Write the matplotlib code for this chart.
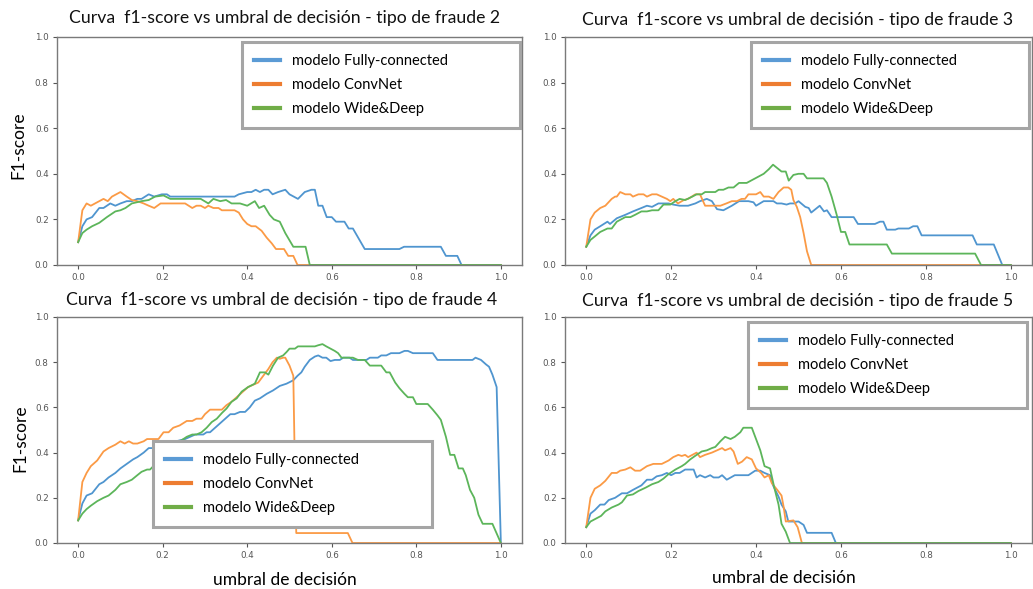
import matplotlib.pyplot as plt
from matplotlib.lines import Line2D

plt.rcParams['font.family'] = ['Lato', 'DejaVu Sans']

modelos = ['modelo Fully-connected', 'modelo ConvNet', 'modelo Wide&Deep']
tipos_fraude = [2, 3, 4, 5]

# (umbral, f1) para cada modelo y tipo de fraude
f2_fc = [(0.0, 0.10), (0.01, 0.17), (0.02, 0.20), (0.033, 0.21), (0.05, 0.25), (0.06, 0.25), (0.076, 0.27),
         (0.088, 0.26), (0.10, 0.27), (0.115, 0.28), (0.127, 0.28), (0.14, 0.29), (0.15, 0.29), (0.167, 0.31),
         (0.18, 0.30), (0.198, 0.31), (0.21, 0.31), (0.218, 0.30), (0.37, 0.30), (0.38, 0.31), (0.40, 0.32),
         (0.41, 0.32), (0.42, 0.33), (0.43, 0.32), (0.44, 0.33), (0.45, 0.33), (0.46, 0.31), (0.473, 0.32),
         (0.49, 0.33), (0.50, 0.31), (0.52, 0.29), (0.536, 0.32), (0.552, 0.33), (0.56, 0.33), (0.568, 0.26),
         (0.578, 0.26), (0.588, 0.21), (0.60, 0.21), (0.61, 0.19), (0.63, 0.19), (0.64, 0.16), (0.65, 0.16),
         (0.678, 0.07), (0.76, 0.07), (0.771, 0.08), (0.858, 0.08), (0.87, 0.04), (0.897, 0.04), (0.907, 0.0),
         (1.0, 0.0)]
f2_conv = [(0.0, 0.10), (0.01, 0.24), (0.02, 0.27), (0.03, 0.26), (0.045, 0.275), (0.06, 0.29), (0.07, 0.28),
           (0.08, 0.30), (0.10, 0.32), (0.115, 0.30), (0.127, 0.285), (0.14, 0.28), (0.155, 0.27), (0.167, 0.26),
           (0.18, 0.25), (0.195, 0.27), (0.253, 0.27), (0.27, 0.25), (0.28, 0.26), (0.29, 0.26), (0.30, 0.25),
           (0.308, 0.26), (0.32, 0.25), (0.332, 0.25), (0.34, 0.24), (0.37, 0.24), (0.38, 0.23), (0.39, 0.20),
           (0.40, 0.18), (0.41, 0.17), (0.42, 0.17), (0.434, 0.15), (0.446, 0.12), (0.458, 0.095), (0.468, 0.07),
           (0.487, 0.07), (0.497, 0.04), (0.509, 0.04), (0.519, 0.0), (1.0, 0.0)]
f2_wd = [(0.0, 0.10), (0.01, 0.14), (0.02, 0.155), (0.033, 0.17), (0.05, 0.185), (0.068, 0.21), (0.08, 0.225),
         (0.088, 0.235), (0.10, 0.24), (0.112, 0.25), (0.127, 0.27), (0.15, 0.28), (0.167, 0.285), (0.182, 0.30),
         (0.202, 0.305), (0.218, 0.29), (0.29, 0.29), (0.308, 0.27), (0.32, 0.29), (0.336, 0.28), (0.35, 0.285),
         (0.363, 0.27), (0.383, 0.27), (0.40, 0.26), (0.418, 0.28), (0.428, 0.25), (0.44, 0.26), (0.453, 0.22),
         (0.463, 0.20), (0.477, 0.19), (0.49, 0.14), (0.509, 0.08), (0.538, 0.08), (0.548, 0.0), (1.0, 0.0)]

f3_fc = [(0.0, 0.08), (0.01, 0.13), (0.02, 0.155), (0.033, 0.17), (0.05, 0.19), (0.056, 0.18), (0.072, 0.205),
         (0.092, 0.22), (0.11, 0.235), (0.13, 0.25), (0.143, 0.26), (0.155, 0.255), (0.17, 0.27), (0.194, 0.27),
         (0.205, 0.265), (0.22, 0.26), (0.24, 0.26), (0.257, 0.27), (0.268, 0.28), (0.284, 0.29), (0.296, 0.28),
         (0.308, 0.245), (0.323, 0.24), (0.343, 0.26), (0.36, 0.28), (0.382, 0.28), (0.394, 0.275), (0.40, 0.26),
         (0.418, 0.28), (0.441, 0.28), (0.449, 0.27), (0.46, 0.27), (0.472, 0.265), (0.48, 0.27), (0.492, 0.27),
         (0.50, 0.28), (0.516, 0.255), (0.524, 0.25), (0.53, 0.23), (0.54, 0.245), (0.55, 0.26), (0.56, 0.235),
         (0.567, 0.24), (0.578, 0.21), (0.63, 0.21), (0.64, 0.18), (0.68, 0.18), (0.692, 0.19), (0.70, 0.19),
         (0.708, 0.155), (0.728, 0.155), (0.735, 0.16), (0.76, 0.16), (0.77, 0.17), (0.78, 0.17), (0.79, 0.13),
         (0.91, 0.13), (0.92, 0.09), (0.96, 0.09), (0.98, 0.0), (1.0, 0.0)]
f3_conv = [(0.0, 0.08), (0.01, 0.20), (0.02, 0.23), (0.033, 0.25), (0.045, 0.26), (0.06, 0.29), (0.068, 0.30),
           (0.072, 0.30), (0.08, 0.32), (0.092, 0.31), (0.104, 0.31), (0.11, 0.30), (0.123, 0.31), (0.135, 0.31),
           (0.143, 0.30), (0.155, 0.31), (0.166, 0.31), (0.178, 0.30), (0.19, 0.29), (0.198, 0.28), (0.205, 0.29),
           (0.216, 0.27), (0.23, 0.285), (0.24, 0.29), (0.257, 0.31), (0.268, 0.31), (0.28, 0.26), (0.316, 0.26),
           (0.33, 0.27), (0.343, 0.28), (0.355, 0.28), (0.366, 0.29), (0.374, 0.29), (0.382, 0.31), (0.40, 0.31),
           (0.41, 0.32), (0.418, 0.30), (0.43, 0.30), (0.441, 0.29), (0.453, 0.32), (0.465, 0.34), (0.476, 0.34),
           (0.483, 0.33), (0.488, 0.285), (0.496, 0.255), (0.504, 0.21), (0.512, 0.14), (0.52, 0.06), (0.53, 0.0),
           (1.0, 0.0)]
f3_wd = [(0.0, 0.08), (0.01, 0.11), (0.02, 0.125), (0.033, 0.145), (0.05, 0.16), (0.06, 0.16), (0.072, 0.19),
         (0.092, 0.21), (0.104, 0.21), (0.115, 0.22), (0.13, 0.235), (0.143, 0.235), (0.155, 0.24), (0.17, 0.24),
         (0.182, 0.265), (0.198, 0.265), (0.21, 0.28), (0.22, 0.29), (0.233, 0.285), (0.25, 0.30), (0.26, 0.31),
         (0.272, 0.31), (0.28, 0.32), (0.304, 0.32), (0.312, 0.33), (0.323, 0.33), (0.335, 0.34), (0.347, 0.34),
         (0.36, 0.36), (0.378, 0.36), (0.398, 0.38), (0.418, 0.40), (0.43, 0.42), (0.44, 0.44), (0.45, 0.425),
         (0.46, 0.41), (0.47, 0.41), (0.477, 0.37), (0.488, 0.395), (0.50, 0.40), (0.512, 0.40), (0.52, 0.38),
         (0.559, 0.38), (0.567, 0.36), (0.578, 0.30), (0.59, 0.22), (0.60, 0.145), (0.61, 0.145), (0.62, 0.09),
         (0.708, 0.09), (0.72, 0.05), (0.916, 0.05), (0.93, 0.0), (1.0, 0.0)]

f4_fc = [(0.0, 0.10), (0.01, 0.175), (0.02, 0.21), (0.033, 0.22), (0.05, 0.26), (0.06, 0.27), (0.072, 0.29),
         (0.088, 0.31), (0.10, 0.33), (0.115, 0.35), (0.13, 0.37), (0.14, 0.38), (0.155, 0.40), (0.167, 0.42),
         (0.178, 0.42), (0.21, 0.44), (0.253, 0.46), (0.265, 0.47), (0.277, 0.48), (0.296, 0.48), (0.304, 0.49),
         (0.312, 0.49), (0.324, 0.51), (0.336, 0.53), (0.348, 0.55), (0.36, 0.57), (0.37, 0.57), (0.383, 0.58),
         (0.395, 0.58), (0.406, 0.60), (0.418, 0.63), (0.43, 0.64), (0.446, 0.66), (0.461, 0.675), (0.477, 0.695),
         (0.493, 0.705), (0.509, 0.72), (0.519, 0.74), (0.528, 0.755), (0.536, 0.78), (0.548, 0.81), (0.56, 0.825),
         (0.568, 0.83), (0.578, 0.82), (0.587, 0.82), (0.597, 0.805), (0.607, 0.81), (0.619, 0.81), (0.627, 0.82),
         (0.642, 0.82), (0.65, 0.81), (0.682, 0.81), (0.69, 0.82), (0.709, 0.82), (0.717, 0.83), (0.729, 0.83),
         (0.74, 0.84), (0.76, 0.84), (0.772, 0.85), (0.78, 0.85), (0.792, 0.84), (0.839, 0.84), (0.85, 0.81),
         (0.933, 0.81), (0.94, 0.82), (0.953, 0.81), (0.965, 0.79), (0.972, 0.78), (0.98, 0.745), (0.99, 0.69),
         (1.0, 0.0)]
f4_conv = [(0.0, 0.10), (0.01, 0.27), (0.02, 0.31), (0.03, 0.34), (0.045, 0.365), (0.06, 0.405), (0.072, 0.42),
           (0.088, 0.435), (0.10, 0.45), (0.11, 0.44), (0.12, 0.45), (0.13, 0.44), (0.14, 0.44), (0.155, 0.45),
           (0.163, 0.46), (0.19, 0.46), (0.202, 0.49), (0.214, 0.49), (0.225, 0.51), (0.24, 0.52), (0.257, 0.54),
           (0.27, 0.54), (0.28, 0.55), (0.292, 0.55), (0.30, 0.57), (0.312, 0.59), (0.34, 0.59), (0.351, 0.61),
           (0.363, 0.625), (0.375, 0.645), (0.39, 0.67), (0.402, 0.69), (0.414, 0.70), (0.426, 0.71), (0.438, 0.74),
           (0.45, 0.77), (0.46, 0.80), (0.47, 0.82), (0.477, 0.815), (0.485, 0.82), (0.49, 0.82), (0.50, 0.785),
           (0.509, 0.74), (0.513, 0.30), (0.516, 0.044), (0.638, 0.044), (0.649, 0.0), (1.0, 0.0)]
f4_wd = [(0.0, 0.10), (0.01, 0.13), (0.02, 0.15), (0.03, 0.165), (0.045, 0.185), (0.06, 0.20), (0.072, 0.21),
         (0.088, 0.235), (0.10, 0.26), (0.115, 0.27), (0.127, 0.28), (0.14, 0.30), (0.15, 0.315), (0.163, 0.325),
         (0.17, 0.325), (0.178, 0.34), (0.21, 0.39), (0.245, 0.455), (0.257, 0.47), (0.27, 0.48), (0.28, 0.48),
         (0.292, 0.49), (0.304, 0.51), (0.316, 0.535), (0.328, 0.55), (0.34, 0.575), (0.351, 0.595), (0.363, 0.625),
         (0.375, 0.64), (0.387, 0.67), (0.402, 0.69), (0.418, 0.705), (0.43, 0.755), (0.442, 0.755), (0.45, 0.745),
         (0.461, 0.785), (0.473, 0.82), (0.485, 0.83), (0.493, 0.845), (0.50, 0.86), (0.513, 0.86), (0.52, 0.87),
         (0.56, 0.87), (0.568, 0.875), (0.578, 0.88), (0.587, 0.87), (0.597, 0.86), (0.607, 0.85), (0.615, 0.84),
         (0.623, 0.82), (0.65, 0.82), (0.662, 0.81), (0.678, 0.81), (0.69, 0.785), (0.717, 0.785), (0.729, 0.755),
         (0.737, 0.755), (0.75, 0.71), (0.76, 0.685), (0.772, 0.66), (0.78, 0.645), (0.792, 0.645), (0.80, 0.615),
         (0.827, 0.615), (0.839, 0.59), (0.85, 0.565), (0.858, 0.545), (0.87, 0.47), (0.88, 0.39), (0.89, 0.39),
         (0.90, 0.33), (0.91, 0.33), (0.917, 0.30), (0.927, 0.235), (0.937, 0.20), (0.947, 0.125), (0.957, 0.085),
         (0.98, 0.085), (1.0, 0.0)]

f5_fc = [(0.0, 0.07), (0.01, 0.13), (0.02, 0.145), (0.033, 0.17), (0.043, 0.17), (0.053, 0.19), (0.068, 0.20),
         (0.084, 0.22), (0.096, 0.22), (0.11, 0.235), (0.13, 0.255), (0.143, 0.28), (0.155, 0.28), (0.166, 0.295),
         (0.178, 0.30), (0.19, 0.31), (0.20, 0.30), (0.21, 0.31), (0.22, 0.31), (0.233, 0.325), (0.253, 0.325),
         (0.26, 0.29), (0.268, 0.30), (0.28, 0.29), (0.292, 0.30), (0.30, 0.29), (0.312, 0.29), (0.32, 0.30),
         (0.331, 0.28), (0.35, 0.30), (0.382, 0.30), (0.398, 0.32), (0.41, 0.32), (0.42, 0.31), (0.433, 0.30),
         (0.44, 0.255), (0.453, 0.205), (0.46, 0.17), (0.47, 0.14), (0.476, 0.095), (0.50, 0.095), (0.512, 0.08),
         (0.52, 0.045), (0.578, 0.045), (0.588, 0.0), (1.0, 0.0)]
f5_conv = [(0.0, 0.07), (0.01, 0.20), (0.02, 0.24), (0.033, 0.255), (0.045, 0.275), (0.06, 0.31), (0.072, 0.31),
           (0.08, 0.32), (0.092, 0.325), (0.104, 0.335), (0.115, 0.32), (0.127, 0.32), (0.143, 0.34), (0.158, 0.35),
           (0.178, 0.35), (0.194, 0.365), (0.205, 0.38), (0.217, 0.39), (0.225, 0.385), (0.233, 0.39), (0.24, 0.38),
           (0.25, 0.39), (0.26, 0.40), (0.268, 0.38), (0.28, 0.39), (0.296, 0.40), (0.308, 0.41), (0.32, 0.42),
           (0.327, 0.41), (0.34, 0.42), (0.347, 0.405), (0.357, 0.35), (0.367, 0.36), (0.378, 0.38), (0.39, 0.37),
           (0.40, 0.33), (0.412, 0.31), (0.42, 0.29), (0.43, 0.30), (0.437, 0.265), (0.45, 0.235), (0.46, 0.21),
           (0.465, 0.16), (0.47, 0.095), (0.488, 0.10), (0.498, 0.07), (0.508, 0.0), (1.0, 0.0)]
f5_wd = [(0.0, 0.07), (0.01, 0.095), (0.025, 0.11), (0.035, 0.12), (0.045, 0.14), (0.06, 0.157), (0.076, 0.17),
         (0.084, 0.18), (0.096, 0.21), (0.11, 0.215), (0.123, 0.23), (0.14, 0.245), (0.155, 0.26), (0.17, 0.27),
         (0.182, 0.285), (0.194, 0.305), (0.21, 0.325), (0.225, 0.34), (0.233, 0.35), (0.245, 0.37), (0.26, 0.39),
         (0.272, 0.405), (0.284, 0.41), (0.296, 0.42), (0.304, 0.425), (0.316, 0.45), (0.327, 0.47), (0.34, 0.46),
         (0.35, 0.47), (0.363, 0.49), (0.37, 0.51), (0.39, 0.51), (0.398, 0.47), (0.41, 0.41), (0.42, 0.34),
         (0.433, 0.33), (0.443, 0.245), (0.453, 0.17), (0.46, 0.085), (0.47, 0.05), (0.48, 0.0), (1.0, 0.0)]

curvas = [[f2_fc, f2_conv, f2_wd], [f3_fc, f3_conv, f3_wd],
          [f4_fc, f4_conv, f4_wd], [f5_fc, f5_conv, f5_wd]]

colores_linea = ['#4f95cf', '#fb9a45', '#5cb55a']
colores_leyenda = ['#5b9bd5', '#ed7d31', '#70ad47']

W, H = 1033, 589
fig = plt.figure(figsize=(W / 100, H / 100), dpi=100)

# cajas de ejes en pixeles: izquierda, arriba, derecha, abajo
cajas = [(57, 37, 522, 265), (565, 37, 1032, 265), (57, 317, 522, 543), (565, 317, 1032, 543)]
# cajas de leyenda: izquierda, arriba, derecha
leyendas = [(242, 42, 520), (751, 42, 1029), (153, 441, 432), (748, 322, 1027)]
titulos_xy = [(285, 18), (798, 20), (282, 300), (798, 301)]


def px_rect(l, t, r, b):
    return [l / W, 1 - b / H, (r - l) / W, (b - t) / H]


for i, tipo in enumerate(tipos_fraude):
    ax = fig.add_axes(px_rect(*cajas[i]))
    for j, serie in enumerate(curvas[i]):
        xs = [p[0] for p in serie]
        ys = [p[1] for p in serie]
        ax.plot(xs, ys, color=colores_linea[j], lw=1.3)
    ax.set_xlim(-0.05, 1.05)
    ax.set_ylim(0, 1)
    ax.set_xticks([0.0, 0.2, 0.4, 0.6, 0.8, 1.0])
    ax.set_yticks([0.0, 0.2, 0.4, 0.6, 0.8, 1.0])
    ax.tick_params(labelsize=6.3, colors='#555555', length=3, width=0.8, pad=3)
    for lab in ax.get_xticklabels() + ax.get_yticklabels():
        lab.set_family('DejaVu Sans')
    for sp in ax.spines.values():
        sp.set_color('#7a7a7a')
        sp.set_linewidth(1.0)

    handles = [Line2D([], [], color=c, lw=3) for c in colores_leyenda]
    l, t, r = leyendas[i]
    leg = ax.legend(handles, modelos, loc='upper left', mode='expand',
                    bbox_to_anchor=(l / W, 1 - t / H - 0.001, (r - l) / W, 0.001),
                    bbox_transform=fig.transFigure, borderaxespad=0, fontsize=10.5,
                    handlelength=1.8, handletextpad=0.8, labelspacing=0.68, borderpad=0.82,
                    fancybox=False, framealpha=1)
    leg.get_frame().set_edgecolor('#a5a5a5')
    leg.get_frame().set_linewidth(2.2)

    tx, ty = titulos_xy[i]
    fig.text(tx / W, 1 - ty / H, 'Curva  f1-score vs umbral de decisión - tipo de fraude %d' % tipo,
             ha='center', va='center', fontsize=12.7, color='#111111')

fig.text(18 / W, 1 - 145 / H, 'F1-score', rotation=90, ha='center', va='center', fontsize=12.5)
fig.text(20 / W, 1 - 438 / H, 'F1-score', rotation=90, ha='center', va='center', fontsize=12.5)
fig.text(285 / W, 1 - 580 / H, 'umbral de decisión', ha='center', va='center', fontsize=12.5)
fig.text(784 / W, 1 - 578 / H, 'umbral de decisión', ha='center', va='center', fontsize=12.5)

fig.savefig('out.png', dpi=100)
